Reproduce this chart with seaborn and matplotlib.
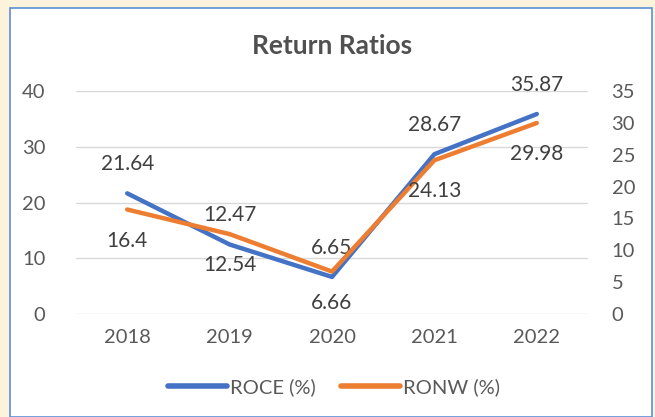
import pandas as pd
import matplotlib.pyplot as plt
import seaborn as sns
from matplotlib.patches import Rectangle
from matplotlib.lines import Line2D

# Chart values
years = ["2018", "2019", "2020", "2021", "2022"]
roce = [21.64, 12.47, 6.65, 28.67, 35.87]
ronw = [16.4, 12.54, 6.66, 24.13, 29.98]

df = pd.DataFrame({"year": years, "roce": roce, "ronw": ronw})
df["pos"] = range(len(years))

sns.set_style("white")
plt.rcParams["font.family"] = ["Lato", "DejaVu Sans"]

blue = "#4472C4"
orange = "#ED7D31"
grey = "#595959"

fig = plt.figure(figsize=(6.55, 4.17), dpi=100)
fig.patch.set_facecolor("#FBF3DC")

# white chart card with blue border
card = Rectangle((10 / 655, 0), 642 / 655, 409 / 417, transform=fig.transFigure,
                 facecolor="white", edgecolor="#5B8FD6", linewidth=1.2, zorder=-10)
fig.patches.append(card)

ax = fig.add_axes([76 / 655, 1 - 314 / 417, 512 / 655, 223 / 417])
ax.set_facecolor("none")
ax2 = ax.twinx()

sns.lineplot(data=df, x="pos", y="roce", ax=ax, color=blue, linewidth=3.2,
             solid_capstyle="round", legend=False)
sns.lineplot(data=df, x="pos", y="ronw", ax=ax2, color=orange, linewidth=3.2,
             solid_capstyle="round", legend=False)

ax.set_xlim(-0.5, 4.5)
ax.set_ylim(0, 40)
ax2.set_ylim(0, 35)
ax.set_yticks(range(0, 41, 10))
ax2.set_yticks(range(0, 36, 5))
ax.set_xticks(df["pos"])
ax.set_xticklabels(years)

ax.grid(axis="y", color="#D9D9D9", linewidth=1)
ax.set_axisbelow(True)
for a in (ax, ax2):
    for s in a.spines.values():
        s.set_visible(False)
    a.set_xlabel("")
    a.set_ylabel("")
ax.tick_params(axis="y", length=0, pad=22, labelsize=14.5, labelcolor=grey)
ax.tick_params(axis="x", length=0, pad=11, labelsize=14.5, labelcolor=grey)
ax2.tick_params(axis="y", length=0, pad=17, labelsize=14.5, labelcolor=grey)

# data labels
for i, v in enumerate(roce):
    ax.annotate(f"{v:g}", (i, v), xytext=(0, 29), textcoords="offset pixels",
                ha="center", va="center", fontsize=15, color="#404040")
for i, v in enumerate(ronw):
    ax2.annotate(f"{v:g}", (i, v), xytext=(0, -31), textcoords="offset pixels",
                 ha="center", va="center", fontsize=15, color="#404040")

fig.text(332 / 655, 1 - 46 / 417, "Return Ratios", ha="center", va="center",
         fontsize=19, fontweight="bold", color="#505050")

handles = [Line2D([], [], color=blue, linewidth=4, solid_capstyle="round"),
           Line2D([], [], color=orange, linewidth=4, solid_capstyle="round")]
fig.legend(handles, ["ROCE (%)", "RONW (%)"], loc="center",
           bbox_to_anchor=(334 / 655, 1 - 387 / 417), ncol=2, frameon=False,
           fontsize=14.5, labelcolor=grey, handlelength=2.9, handletextpad=0.15,
           columnspacing=1.3)

fig.savefig("out.png", dpi=100, facecolor=fig.get_facecolor())
